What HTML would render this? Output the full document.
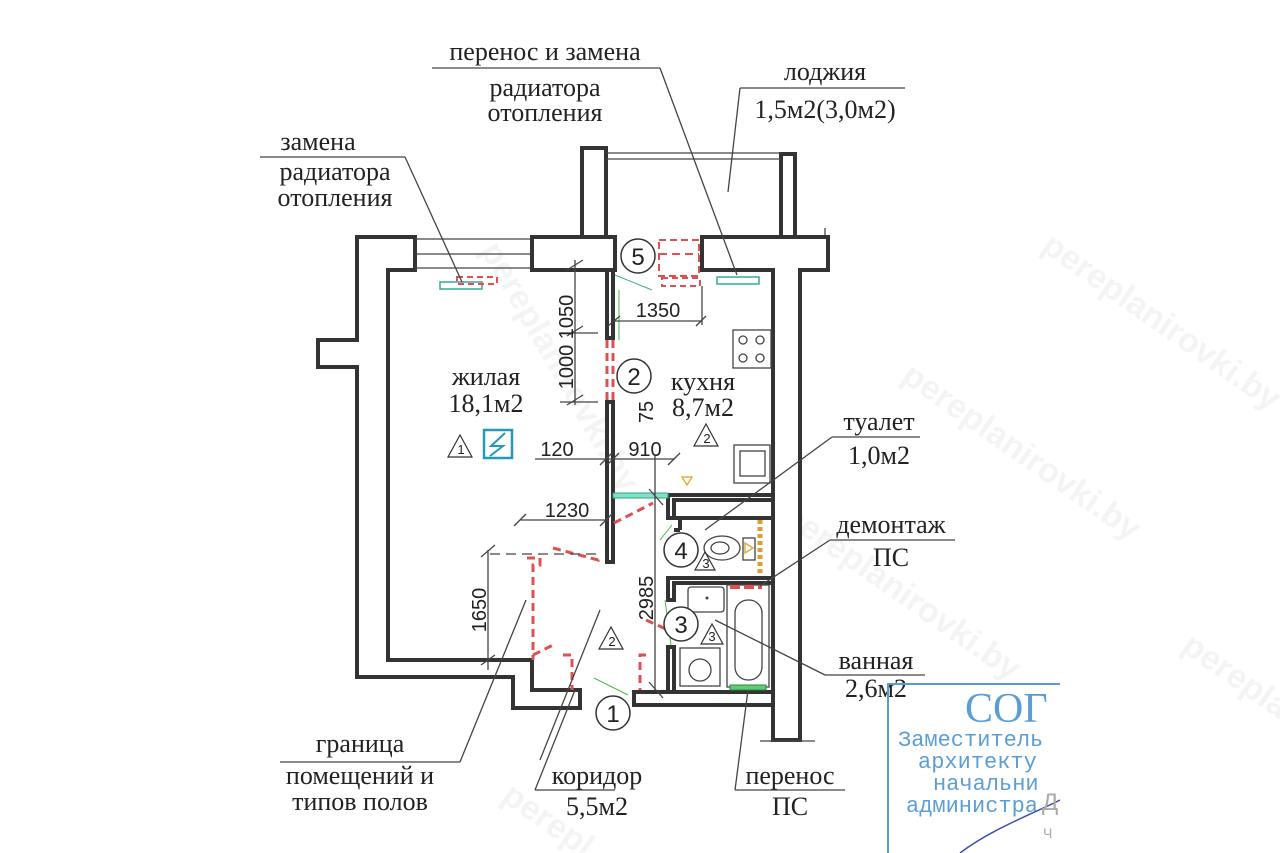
<!DOCTYPE html>
<html><head><meta charset="utf-8"><style>
html,body{margin:0;padding:0;background:#fff;overflow:hidden;width:1280px;height:853px}
svg{display:block;overflow:hidden}
.t{font-family:"Liberation Serif","Noto Serif CJK SC",serif;font-size:26px;fill:#222}
.d{font-family:"Liberation Sans","Noto Sans CJK SC",sans-serif;font-size:20px;fill:#222}
.w{fill:#fff;stroke:#333;stroke-width:4}
.thin{stroke:#444;stroke-width:1.3;fill:none}
.red{stroke:#e05050;stroke-width:3;fill:none;stroke-dasharray:8 5}
.wm{font-family:"Liberation Sans",sans-serif;font-size:34px;font-weight:bold;fill:#000;opacity:0.04}
</style></head><body>
<svg width="1280" height="853" viewBox="0 0 1280 853" xmlns="http://www.w3.org/2000/svg">
<defs><clipPath id="st"><rect x="880" y="670" width="180" height="183"/></clipPath><clipPath id="pg"><rect x="0" y="0" width="1280" height="853"/></clipPath></defs>
<g clip-path="url(#pg)">
<text class="wm" transform="translate(1040,250) rotate(35)">pereplanirovki.by</text>
<text class="wm" transform="translate(900,380) rotate(35)">pereplanirovki.by</text>
<text class="wm" transform="translate(480,250) rotate(60)">pereplanirovki.by</text>
<text class="wm" transform="translate(780,520) rotate(35)">pereplanirovki.by</text>
<text class="wm" transform="translate(1180,650) rotate(35)">pereplan</text>
<text class="wm" transform="translate(500,800) rotate(35)">perepl</text>
</g>

<rect class="w" x="582" y="148" width="24" height="90"/>
<rect class="w" x="781" y="154" width="14" height="116"/>
<line class="thin" x1="606" y1="153" x2="781" y2="153"/>
<line class="thin" x1="606" y1="159" x2="781" y2="159"/>
<line class="thin" x1="795" y1="240" x2="828" y2="240"/>
<line class="thin" x1="795" y1="268" x2="828" y2="268"/>
<line class="thin" x1="825" y1="228" x2="825" y2="272"/>

<path class="w" d="M357,237 H415 V270 H388 V660 H532 V690 H580 V708 H513 V677 H357 V367 H318 V340 H357 Z"/>
<line class="thin" x1="415" y1="239" x2="530" y2="239"/>
<line class="thin" x1="415" y1="254" x2="530" y2="254"/>
<line class="thin" x1="415" y1="268" x2="530" y2="268"/>
<rect class="w" x="532" y="237" width="83" height="33"/>
<path class="w" d="M702,237 H828 V270 H800 V740 H773 V270 H702 Z"/>
<line class="thin" x1="760" y1="741" x2="815" y2="741"/>
<rect class="w" x="607" y="270" width="6" height="68"/>
<rect class="w" x="607" y="402" width="6" height="160"/>
<line class="red" x1="607" y1="340" x2="607" y2="400"/>
<line class="red" x1="613" y1="340" x2="613" y2="400"/>
<rect class="w" x="634" y="692" width="139" height="13"/>
<path class="w" d="M668,495 H773 V500 H674 V518 H668 Z"/>
<path class="w" d="M674,518 H773 M680,518 V530 M674,530 H680"/>
<path class="w" d="M668,578 H773 V583 H674 V600 H668 Z"/>
<rect class="w" x="668" y="647" width="6" height="45"/>
<ellipse class="thin" cx="722" cy="548" rx="18" ry="12"/>
<ellipse class="thin" cx="720" cy="548" rx="9" ry="6"/>
<rect class="thin" x="743" y="538" width="12" height="22"/>
<path d="M745,543 l8,5 l-8,5z" fill="none" stroke="#e0b040" stroke-width="1.5"/>
<line x1="760" y1="520" x2="760" y2="576" stroke="#d9a030" stroke-width="5" stroke-dasharray="4 3"/>
<rect class="thin" x="688" y="587" width="36" height="25" rx="3"/>
<circle cx="707" cy="598" r="1.5" fill="#444"/>
<rect class="thin" x="727" y="585" width="42" height="102"/>
<rect class="thin" x="735" y="600" width="27" height="80" rx="13"/>
<line x1="730" y1="587" x2="762" y2="587" stroke="#e05050" stroke-width="4" stroke-dasharray="10 4"/>
<rect class="thin" x="680" y="648" width="40" height="38"/>
<circle class="thin" cx="700" cy="670" r="11"/>
<rect x="730" y="685" width="36" height="5" fill="#6c6" stroke="#285" stroke-width="1"/>
<rect class="thin" x="734" y="445" width="36" height="38"/>
<rect class="thin" x="740" y="451" width="25" height="25"/>
<rect class="thin" x="733" y="330" width="38" height="38"/>
<g class="thin"><circle cx="743" cy="340" r="4"/><circle cx="760" cy="340" r="4"/><circle cx="743" cy="358" r="4"/><circle cx="760" cy="358" r="4"/></g>
<path d="M682,477 h10 l-5,8z" fill="none" stroke="#e0b040" stroke-width="1.5"/>
<rect x="440" y="282" width="42" height="7" fill="none" stroke="#3a9" stroke-width="1.5"/>
<rect x="457" y="277" width="40" height="7" class="red" style="stroke-width:2;stroke-dasharray:6 4"/>
<rect x="717" y="277" width="42" height="7" fill="none" stroke="#3a9" stroke-width="1.5"/>
<rect x="659" y="240" width="40" height="36" class="red" style="stroke-width:2;stroke-dasharray:7 4"/>
<line x1="659" y1="254" x2="699" y2="254" class="red" style="stroke-width:2"/>
<rect x="662" y="278" width="38" height="8" class="red" style="stroke-width:2;stroke-dasharray:6 4"/>
<line x1="619" y1="290" x2="619" y2="340" stroke="#4b4" stroke-width="1"/>
<line x1="615" y1="275" x2="652" y2="290" stroke="#3a9" stroke-width="1"/>
<rect x="613" y="493" width="55" height="5" fill="#8dc" stroke="#2a7" stroke-width="1"/>
<path class="red" d="M614,523 L653,503"/>
<path class="red" d="M553,548 L598,560 V555"/>
<path class="red" d="M527,558 H540 V565 H533 V660"/>
<path class="red" d="M533,655 L553,645"/>
<path class="red" d="M563,655 H572 V690"/>
<path class="red" d="M646,655 H640 V690"/>
<path class="red" d="M646,620 L668,630"/>
<line x1="660" y1="540" x2="672" y2="525" stroke="#4b4" stroke-width="1"/>
<line x1="665" y1="600" x2="671" y2="645" stroke="#4b4" stroke-width="1"/>
<line x1="594" y1="678" x2="628" y2="695" stroke="#4b4" stroke-width="1"/>
<g class="thin">
<line x1="575" y1="260" x2="575" y2="405"/><line x1="567" y1="270" x2="583" y2="260"/><line x1="567" y1="336" x2="583" y2="326"/><line x1="567" y1="405" x2="583" y2="395"/>
<line x1="560" y1="333" x2="598" y2="333"/><line x1="560" y1="402" x2="598" y2="402"/>
<line x1="613" y1="321" x2="702" y2="321"/><line x1="608" y1="326" x2="620" y2="316"/><line x1="696" y1="326" x2="706" y2="316"/><line x1="702" y1="286" x2="702" y2="325"/>
<line x1="535" y1="459" x2="675" y2="459"/><line x1="600" y1="465" x2="612" y2="453"/><line x1="607" y1="465" x2="619" y2="453"/><line x1="668" y1="465" x2="680" y2="453"/>
<line x1="655" y1="455" x2="655" y2="690"/><line x1="649" y1="489" x2="663" y2="505"/><line x1="649" y1="682" x2="663" y2="698"/>
<line x1="520" y1="520" x2="608" y2="520"/><line x1="514" y1="526" x2="526" y2="514"/><line x1="600" y1="526" x2="612" y2="514"/>
<line x1="488" y1="550" x2="488" y2="670"/><line x1="481" y1="557" x2="495" y2="545"/><line x1="481" y1="665" x2="495" y2="655"/>
</g>
<line x1="490" y1="554" x2="598" y2="554" stroke="#444" stroke-width="1.3" stroke-dasharray="10 6"/>
<text class="d" transform="translate(573,317) rotate(-90)" text-anchor="middle">1050</text>
<text class="d" transform="translate(573,367) rotate(-90)" text-anchor="middle">1000</text>
<text class="d" x="658" y="317" text-anchor="middle">1350</text>
<text class="d" transform="translate(653,412) rotate(-90)" text-anchor="middle">75</text>
<text class="d" x="557" y="456" text-anchor="middle">120</text>
<text class="d" x="645" y="456" text-anchor="middle">910</text>
<text class="d" x="567" y="517" text-anchor="middle">1230</text>
<text class="d" transform="translate(486,610) rotate(-90)" text-anchor="middle">1650</text>
<text class="d" transform="translate(653,598) rotate(-90)" text-anchor="middle">2985</text>
<g fill="#fff" stroke="#333" stroke-width="1.5">
<circle cx="638" cy="256" r="17"/><circle cx="634" cy="376" r="17"/><circle cx="681" cy="550" r="17"/><circle cx="681" cy="624" r="17"/><circle cx="613" cy="713" r="17"/>
</g>
<g class="d" style="font-size:24px" text-anchor="middle">
<text x="638" y="265">5</text><text x="634" y="385">2</text><text x="681" y="559">4</text><text x="681" y="633">3</text><text x="613" y="722">1</text>
</g>
<g fill="none" stroke="#333" stroke-width="1.2">
<path d="M448,457 l12,-22 l12,22z"/><path d="M694,446 l12,-22 l12,22z"/><path d="M599,649 l12,-22 l12,22z"/><path d="M695,570 l10,-18 l10,18z"/><path d="M701,644 l11,-20 l11,20z"/>
</g>
<g class="d" style="font-size:13px" text-anchor="middle">
<text x="461" y="454">1</text><text x="707" y="443">2</text><text x="612" y="646">2</text><text x="706" y="568">3</text><text x="712" y="641">3</text>
</g>
<rect x="484" y="430" width="28" height="28" fill="none" stroke="#29b" stroke-width="2.5"/>
<path d="M505,433 L491,446 H503 L490,456" fill="none" stroke="#29b" stroke-width="2"/>
<text class="t" x="486" y="385" text-anchor="middle">жилая</text>
<text class="t" x="486" y="412" text-anchor="middle">18,1м2</text>
<text class="t" x="703" y="390" text-anchor="middle">кухня</text>
<text class="t" x="703" y="416" text-anchor="middle">8,7м2</text>
<g class="thin">
<line x1="432" y1="68" x2="660" y2="68"/><line x1="660" y1="68" x2="737" y2="275"/>
<line x1="740" y1="88" x2="905" y2="88"/><line x1="740" y1="88" x2="728" y2="192"/>
<line x1="260" y1="157" x2="405" y2="157"/><line x1="405" y1="157" x2="462" y2="282"/>
<line x1="832" y1="437" x2="920" y2="437"/><line x1="832" y1="437" x2="705" y2="530"/>
<line x1="830" y1="540" x2="955" y2="540"/><line x1="830" y1="540" x2="760" y2="586"/>
<line x1="825" y1="675" x2="925" y2="675"/><line x1="825" y1="675" x2="715" y2="620"/>
<line x1="735" y1="790" x2="845" y2="790"/><line x1="735" y1="790" x2="748" y2="690"/>
<line x1="535" y1="790" x2="615" y2="790"/><line x1="535" y1="790" x2="575" y2="690"/>
<line x1="280" y1="762" x2="460" y2="762"/><line x1="460" y1="762" x2="526" y2="600"/>
<line x1="540" y1="760" x2="600" y2="610"/>
</g>
<g class="t" text-anchor="middle">
<text x="545" y="60">перенос и замена</text>
<text x="545" y="96">радиатора</text>
<text x="545" y="121">отопления</text>
<text x="825" y="80">лоджия</text>
<text x="825" y="118">1,5м2(3,0м2)</text>
<text x="318" y="150">замена</text>
<text x="335" y="180">радиатора</text>
<text x="335" y="206">отопления</text>
<text x="879" y="430">туалет</text>
<text x="879" y="464">1,0м2</text>
<text x="891" y="533">демонтаж</text>
<text x="891" y="566">ПС</text>
<text x="876" y="669">ванная</text>
<text x="876" y="697">2,6м2</text>
<text x="790" y="784">перенос</text>
<text x="790" y="815">ПС</text>
<text x="597" y="784">коридор</text>
<text x="597" y="815">5,5м2</text>
<text x="360" y="752">граница</text>
<text x="360" y="784">помещений и</text>
<text x="360" y="810">типов полов</text>
</g>
<g clip-path="url(#st)">
<path d="M1060,684 H888 V853" fill="none" stroke="#5a9bd0" stroke-width="2"/>
<g fill="#3f8ed0" opacity="0.85" font-family="Liberation Mono, monospace">
<text x="965" y="722" font-size="42" font-family="Liberation Serif, serif">СОГ</text>
<text x="898" y="746" font-size="22">Заместитель</text>
<text x="918" y="768" font-size="22">архитекту</text>
<text x="933" y="790" font-size="22">начальни</text>
<text x="906" y="812" font-size="22">администра</text>
</g>
<path d="M960,853 C990,830 1030,815 1060,800" fill="none" stroke="#4050b0" stroke-width="1.5"/>
<text x="1042" y="810" font-family="Liberation Sans" font-size="24" fill="#aaa">Д</text>
<text x="1043" y="838" font-family="Liberation Sans" font-size="14" fill="#aaa">Ч</text>
</g>
</svg>
</body></html>
